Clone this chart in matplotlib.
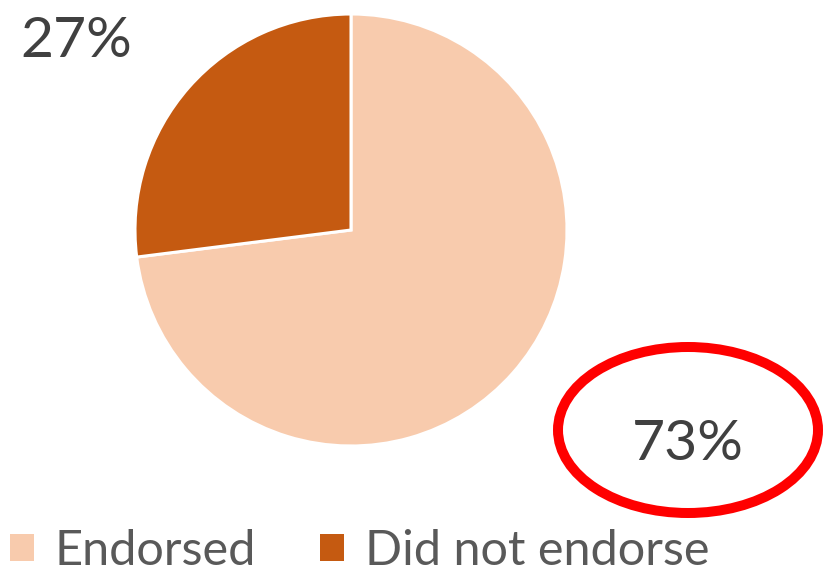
import matplotlib
matplotlib.use("Agg")
import matplotlib.pyplot as plt
from matplotlib.patches import Ellipse, Patch

plt.rcParams['font.family'] = ['Lato', 'DejaVu Sans']

categories = ["Endorsed", "Did not endorse"]
values = [73, 27]
colors = ["#F8CBAD", "#C55A11"]

W, H = 825, 572
fig = plt.figure(figsize=(W / 100, H / 100), dpi=100)
ax = fig.add_axes([0, 0, 1, 1])

# pie in pixel-like coordinates (y measured from bottom)
ax.pie(values, colors=colors, startangle=90, counterclock=False,
       center=(351, H - 230), radius=216,
       wedgeprops=dict(edgecolor="white", linewidth=2.2))

ax.set_xlim(0, W)
ax.set_ylim(0, H)
ax.set_aspect("equal")
ax.axis("off")

# percentage labels
label_pos = {"Endorsed": (688, H - 460), "Did not endorse": (76, H - 57)}
for cat, v in zip(categories, values):
    x, y = label_pos[cat]
    ax.text(x, y, f"{v}%", ha="center", va="baseline",
            fontsize=41, color="#404040")

# highlight ring around the majority share
ax.add_patch(Ellipse((688, H - 430), 260, 166, fill=False,
                     edgecolor="#FF0000", linewidth=7.2))

handles = [Patch(facecolor=c, edgecolor="none") for c in colors]
leg = ax.legend(handles, categories, loc="lower left",
                bbox_to_anchor=(0.006, -0.01), ncol=2, frameon=False,
                fontsize=35, handlelength=0.5, handleheight=0.5,
                handletextpad=0.42, columnspacing=1.32,
                borderaxespad=0, borderpad=0.1)
for t in leg.get_texts():
    t.set_color("#595959")

fig.savefig("out.png", dpi=100, facecolor="white")
